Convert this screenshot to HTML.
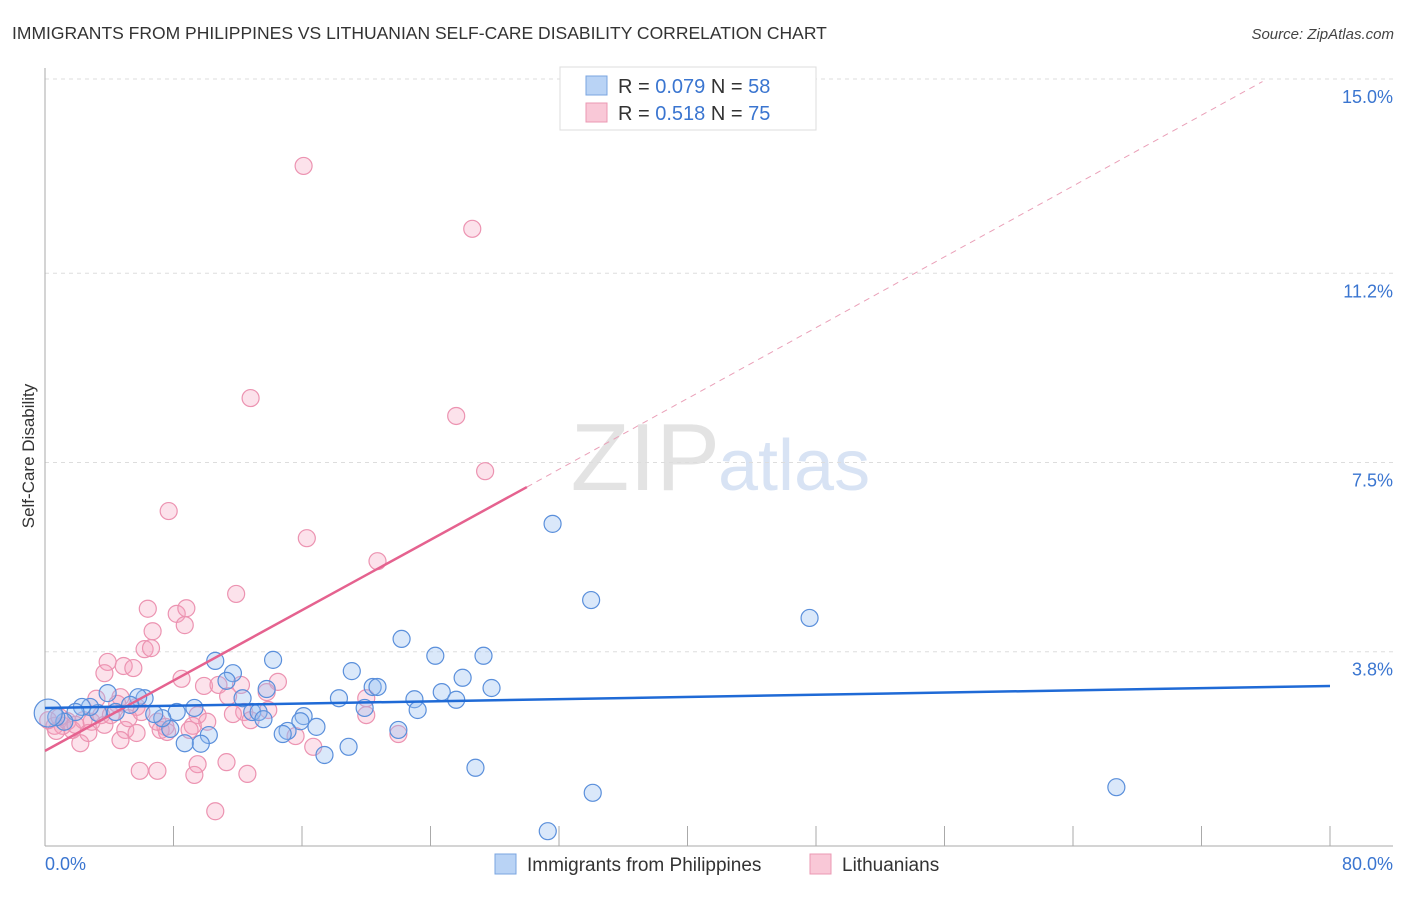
<!DOCTYPE html>
<html><head><meta charset="utf-8"><style>
body{margin:0;background:#fff;font-family:"Liberation Sans",sans-serif;}
svg text{font-family:"Liberation Sans",sans-serif;}
</style></head><body>
<svg id="chart" width="1406" height="892" viewBox="0 0 1406 892" xmlns="http://www.w3.org/2000/svg">
<text x="12" y="39" font-size="17.5" fill="#333">IMMIGRANTS FROM PHILIPPINES VS LITHUANIAN SELF-CARE DISABILITY CORRELATION CHART</text>
<text x="1394" y="39" font-size="15" fill="#444" text-anchor="end" font-style="italic">Source: ZipAtlas.com</text>
<text x="720" y="490" font-size="96" fill="#ddd" text-anchor="end" font-family="Liberation Serif" opacity="0.8">ZIP</text>
<text x="718" y="490" font-size="72" fill="#c8d8f0" opacity="0.7">atlas</text>
<g id="grid"></g><g id="axes"></g><g id="marks"></g>
<text transform="translate(34,456) rotate(-90)" font-size="17" fill="#333" text-anchor="middle">Self-Care Disability</text>
<g>
<rect x="560" y="67" width="256" height="63" fill="#fff" stroke="#ddd"/>
<rect x="586" y="76" width="21" height="19" fill="#b9d3f5" stroke="#7aa5e0"/>
<rect x="586" y="103" width="21" height="19" fill="#f9c8d7" stroke="#eb98b3"/>
<text x="618" y="93" font-size="20" fill="#333">R = <tspan fill="#3a75d0">0.079</tspan>   N = <tspan fill="#3a75d0">58</tspan></text>
<text x="618" y="120" font-size="20" fill="#333">R =  <tspan fill="#3a75d0">0.518</tspan>   N = <tspan fill="#3a75d0">75</tspan></text>
</g>
<g>
<rect x="495" y="854" width="21" height="20" fill="#b9d3f5" stroke="#7aa5e0"/>
<text x="527" y="871" font-size="19" fill="#333">Immigrants from Philippines</text>
<rect x="810" y="854" width="21" height="20" fill="#f9c8d7" stroke="#eb98b3"/>
<text x="842" y="871" font-size="19" fill="#333">Lithuanians</text>
</g>
</svg>
<script>
const yTicks=[3.8,7.5,11.2,15.0];
const yTickLabels=["3.8%","7.5%","11.2%","15.0%"];
const xTicks=[0,8,16,24,32,40,48,56,64,72,80];
const blueX=[31.6,34.0,47.6,66.7,34.1,31.3,26.8,22.2,24.3,27.3,26.0,27.8,24.7,25.6,23.0,23.2,22.0,19.1,20.4,20.7,18.3,19.9,18.9,17.4,16.9,16.1,15.9,15.1,14.8,14.2,13.8,12.9,13.3,12.3,11.7,11.3,10.6,10.2,9.7,8.7,9.3,8.2,7.8,7.3,6.8,6.2,5.8,5.3,4.4,3.9,3.3,2.8,2.3,1.9,1.2,0.7,0.2,13.6];
const blueY=[6.3,4.81,4.46,1.15,1.04,0.29,1.53,4.05,3.72,3.72,3.29,3.09,3.01,2.86,2.87,2.66,2.27,3.42,3.11,3.11,2.89,2.70,1.94,1.78,2.33,2.54,2.44,2.25,2.19,3.64,3.07,2.62,2.62,2.89,3.38,3.23,3.62,2.17,2.0,2.01,2.70,2.62,2.29,2.50,2.58,2.89,2.91,2.76,2.62,2.99,2.60,2.72,2.72,2.62,2.43,2.52,2.60,2.48];
const pinkX=[16.1,26.6,12.8,25.6,27.4,7.7,16.3,20.7,11.9,6.4,8.2,8.8,8.7,6.7,6.2,6.6,3.9,4.9,5.5,3.7,8.5,9.9,14.5,10.8,12.2,13.8,11.4,3.2,4.7,4.5,5.7,9.5,10.1,12.4,12.8,7.5,9.2,7.2,7.6,5.0,5.7,4.7,2.2,1.7,1.1,0.6,2.9,2.4,3.5,5.2,15.6,16.7,20.0,20.0,22.0,9.5,9.3,11.3,12.6,5.9,7.0,10.6,0.7,0.2,1.4,1.9,2.7,3.7,4.1,0.9,7.0,9.0,13.9,11.7,6.0];
const pinkY=[13.30,12.07,8.76,8.41,7.33,6.55,6.02,5.57,4.93,4.64,4.54,4.65,4.32,4.20,3.85,3.87,3.60,3.52,3.48,3.38,3.27,3.13,3.21,3.15,3.15,3.01,2.93,2.88,2.91,2.78,2.72,2.56,2.43,2.62,2.46,2.33,2.35,2.27,2.23,2.27,2.21,2.07,2.01,2.27,2.35,2.35,2.43,2.46,2.56,2.50,2.15,1.94,2.89,2.56,2.19,1.60,1.39,1.64,1.41,1.47,1.47,0.68,2.25,2.46,2.44,2.37,2.21,2.37,2.56,2.52,2.43,2.27,2.66,2.58,2.62];
const blueTrend=[[0,2.70],[80,3.13]];
const pinkTrend=[[0,1.86],[30,7.02]];
const pinkDash=[[30,7.02],[75.8,14.95]];
const NS="http://www.w3.org/2000/svg";
const X0=45,X1=1330,Y0=846,Y15=79;
const sx=v=>X0+v*(X1-X0)/80;
const sy=v=>Y0-v*(Y0-Y15)/15;
function mk(t,a,p){const e=document.createElementNS(NS,t);for(const k in a)e.setAttribute(k,a[k]);document.getElementById(p).appendChild(e);return e;}
yTicks.forEach((t,i)=>{
 const l=mk('line',{x1:X0,x2:1393,y1:sy(t),y2:sy(t),stroke:'#ddd','stroke-dasharray':'4,4'},'grid');
 
 
 const tx=mk('text',{x:1393,y:sy(t)+24,'font-size':18,fill:'#3a75d0','text-anchor':'end'},'axes');
 tx.textContent=yTickLabels[i];
 
 
});
const ax=mk('line',{x1:X0,x2:X0,y1:68,y2:Y0,stroke:'#aaa'},'axes');


const bx=mk('line',{x1:X0,x2:1393,y1:Y0,y2:Y0,stroke:'#aaa'},'axes');


xTicks.forEach(t=>{const l=mk('line',{x1:sx(t),x2:sx(t),y1:Y0,y2:826,stroke:'#aaa'},'axes');
 
 });
const xl0=mk('text',{x:45,y:870,'font-size':18,fill:'#3a75d0'},'axes');xl0.textContent='0.0%';


const xl1=mk('text',{x:1393,y:870,'font-size':18,fill:'#3a75d0','text-anchor':'end'},'axes');xl1.textContent='80.0%';


pinkX.forEach((x,i)=>{const c=mk('circle',{cx:sx(x),cy:sy(pinkY[i]),r:8.5,fill:'rgba(245,160,190,0.3)',stroke:'#ec93b1','stroke-width':1.2},'marks');
 
 });
blueX.forEach((x,i)=>{const c=mk('circle',{cx:sx(x),cy:sy(blueY[i]),r:(i==56?14:8.5),fill:'rgba(150,190,240,0.35)',stroke:'#5a8fdb','stroke-width':1.2},'marks');
 
 });
const pl=mk('line',{x1:sx(pinkTrend[0][0]),y1:sy(pinkTrend[0][1]),x2:sx(pinkTrend[1][0]),y2:sy(pinkTrend[1][1]),stroke:'#e5628f','stroke-width':2.5},'marks');


const pd=mk('line',{x1:sx(pinkDash[0][0]),y1:sy(pinkDash[0][1]),x2:sx(pinkDash[1][0]),y2:sy(pinkDash[1][1]),stroke:'#eaa0b8','stroke-width':1,'stroke-dasharray':'6,5'},'marks');


const bl=mk('line',{x1:sx(blueTrend[0][0]),y1:sy(blueTrend[0][1]),x2:sx(blueTrend[1][0]),y2:sy(blueTrend[1][1]),stroke:'#1f6ad6','stroke-width':2.5},'marks');


</script>
</body></html>
